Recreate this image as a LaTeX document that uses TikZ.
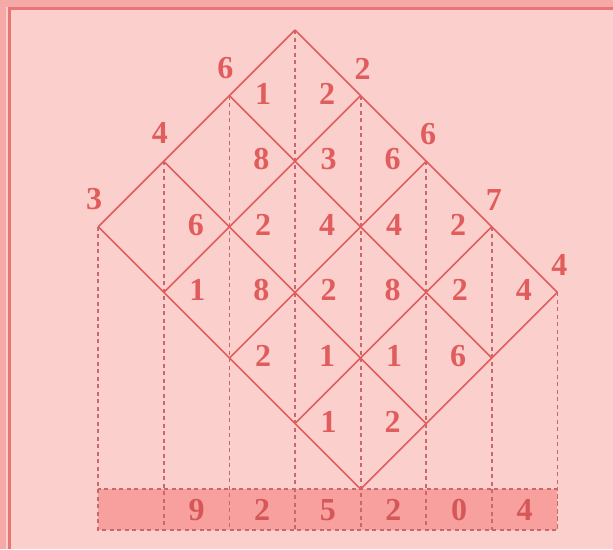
\documentclass[tikz,border=0pt]{standalone}
\usepackage{fontspec}
\setmainfont{Liberation Serif}
\usetikzlibrary{calc}

\definecolor{paper}{RGB}{251,208,204}
\definecolor{margin}{RGB}{245,170,168}
\definecolor{rim}{RGB}{232,118,118}
\definecolor{ink}{RGB}{225,92,92}
\definecolor{dashink}{RGB}{200,104,110}
\definecolor{barfill}{RGB}{247,160,158}

\begin{document}
\begin{tikzpicture}[
    x=1pt, y=-1pt,
    font=\bfseries\fontsize{32}{32}\selectfont,
    %% solid lattice lines
    lattice/.style={draw=ink, line width=1.6pt},
    %% vertical dashed guides and the answer strip
    guide/.style={draw=dashink, line width=1.8pt, dash pattern=on 4pt off 3.5pt},
    %% partial products inside the cells
    digit/.style={text=ink, inner sep=0pt},
    %% the two factors along the top edges
    factor/.style={text=ink, inner sep=0pt},
    %% digits of the answer
    result/.style={text=ink!95!black, inner sep=0pt}
]
\def\u{65.6}

%%-------------------------------------------------------------- page
\fill[paper] (0,0) rectangle (613,549);
\useasboundingbox (0,0) rectangle (613,549);
\fill[margin] (0,0) rectangle (6,549);
\fill[margin] (0,0) rectangle (613,7);
\draw[rim, line width=3pt] (9.5,549) -- (9.5,8.5) -- (613,8.5);

%%-------------------------------------------------------------- lattice corners
\foreach \i in {0,...,3}
  \foreach \j in {0,...,4}
    \coordinate (v\i\j) at ({295+(\j-\i)*\u}, {30+(\i+\j)*\u});
\coordinate (barbase) at (0,530);

%%-------------------------------------------------------------- answer strip
\fill[barfill] (v30 |- v34) rectangle (v04 |- barbase);
\draw[guide] (v30 |- v34) rectangle (v04 |- barbase);

% guides drop from the upper corners down through the strip
\foreach \p in {v30,v20,v10,v00,v01,v02,v03,v04}
  \draw[guide] (\p) -- (\p |- barbase);

%%-------------------------------------------------------------- lattice
\foreach \i in {0,...,3}
  \draw[lattice] (v\i0) -- (v\i4);
\foreach \j in {0,...,4}
  \draw[lattice] (v0\j) -- (v3\j);

%%-------------------------------------------------------------- partial products
% tens digit, left of the guide (leading zeros left out)
\foreach \i/\j/\d in {0/0/1, 0/1/3, 0/2/4, 0/3/2,
                      1/1/2, 1/2/2, 1/3/1,
                      2/1/1, 2/2/2, 2/3/1}
  \node[digit] (t\i\j) at ({295+(\j-\i)*\u-32}, {28+(\i+\j+1)*\u}) {\d};

% units digit, right of the guide
\foreach \i/\j/\d in {0/0/2, 0/1/6, 0/2/2, 0/3/4,
                      1/0/8, 1/1/4, 1/2/8, 1/3/6,
                      2/0/6, 2/1/8, 2/2/1, 2/3/2}
  \node[digit] (o\i\j) at ({295+(\j-\i)*\u+32}, {28+(\i+\j+1)*\u}) {\d};

%%-------------------------------------------------------------- factors
\foreach \i/\d in {1/6, 2/4, 3/3}
  \node[factor] (a\i) at ($(v\i0)+(-4,-28)$) {\d};
\foreach \j/\d in {1/2, 2/6, 3/7, 4/4}
  \node[factor] (b\j) at ($(v0\j)+(2,-27)$) {\d};

%%-------------------------------------------------------------- answer
\foreach \k/\d in {1/9, 2/2, 3/5, 4/2, 5/0, 6/4}
  \node[result] (r\k) at ({98.2+(\k+0.5)*\u}, 510) {\d};

\end{tikzpicture}
\end{document}
